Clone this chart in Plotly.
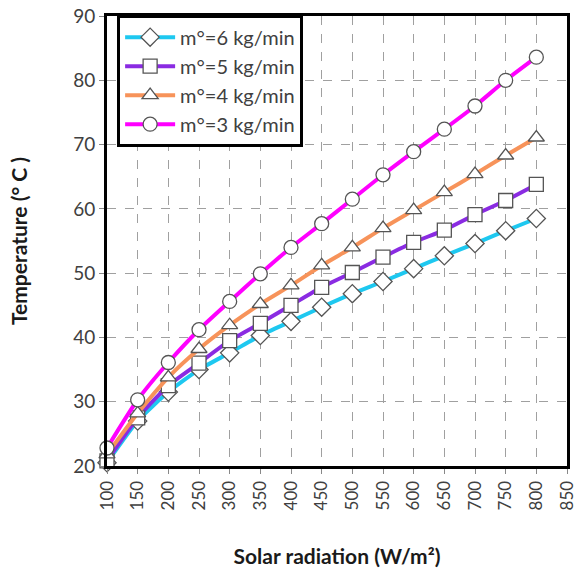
import plotly.graph_objects as go

radiation = [100, 150, 200, 250, 300, 350, 400, 450, 500, 550, 600, 650, 700, 750, 800]
t_6 = [20.5, 27.0, 31.5, 35.0, 37.6, 40.3, 42.5, 44.7, 46.8, 48.7, 50.7, 52.7, 54.6, 56.6, 58.5]
t_5 = [20.8, 27.5, 32.5, 36.0, 39.5, 42.2, 45.0, 47.8, 50.1, 52.5, 54.8, 56.7, 59.1, 61.3, 63.8]
t_4 = [21.8, 28.2, 33.8, 38.2, 41.9, 45.2, 48.1, 51.2, 54.0, 57.0, 59.8, 62.6, 65.4, 68.3, 71.1]
t_3 = [22.8, 30.3, 36.1, 41.2, 45.6, 49.9, 54.0, 57.7, 61.5, 65.3, 68.9, 72.4, 76.0, 80.0, 83.6]

series = [
    ("m°=6 kg/min", t_6, "#1EC8F0", "diamond"),
    ("m°=5 kg/min", t_5, "#8A2BE2", "square"),
    ("m°=4 kg/min", t_4, "#F7935A", "triangle-up"),
    ("m°=3 kg/min", t_3, "#FF00FF", "circle"),
]

fig = go.Figure()
for name, vals, color, sym in series:
    fig.add_trace(go.Scatter(
        x=radiation, y=vals, name=name, mode="lines+markers",
        line=dict(color=color, width=4, shape="spline", smoothing=0.6),
        marker=dict(symbol=sym, size=14, color="white",
                    line=dict(color="#555555", width=1.3)),
        cliponaxis=False,
    ))

font = "Lato, 'Open Sans', sans-serif"
fig.update_layout(
    width=576, height=575,
    margin=dict(l=107, r=9, t=16, b=109),
    plot_bgcolor="white", paper_bgcolor="white",
    font=dict(family=font, size=15, color="#404040"),
    showlegend=True,
    legend=dict(
        x=0.022, y=1.003, xanchor="left", yanchor="top",
        bgcolor="white", bordercolor="black", borderwidth=3,
        font=dict(family=font, size=20, color="#404040"),
        itemwidth=50, tracegroupgap=0,
        entrywidth=140, entrywidthmode="pixels",
    ),
    xaxis=dict(
        range=[100, 850], tickmode="linear", tick0=100, dtick=50,
        tickangle=-90, ticks="outside", ticklen=5, tickcolor="#888888",
        showgrid=True, gridcolor="#A0A0A0", griddash="dash", gridwidth=1,
        showline=True, linecolor="black", linewidth=3, mirror=True,
        zeroline=False, automargin=False, ticklabeloverflow="allow",
        title=dict(text="Solar radiation (W/m²)", standoff=40,
                   font=dict(family=font, size=21, color="#1a1a1a", weight="bold")),
        tickfont=dict(family=font, size=17, color="#404040"),
    ),
    yaxis=dict(
        range=[20, 90], tickmode="linear", tick0=20, dtick=10,
        ticks="outside", ticklen=5, tickcolor="#888888",
        showgrid=True, gridcolor="#A0A0A0", griddash="dash", gridwidth=1,
        showline=True, linecolor="black", linewidth=3, mirror=True,
        zeroline=False, automargin=False,
        title=dict(text="Temperature (° C )", standoff=40,
                   font=dict(family=font, size=21, color="#1a1a1a", weight="bold")),
        tickfont=dict(family=font, size=19, color="#404040"),
    ),
)

fig.write_html("out.html")
